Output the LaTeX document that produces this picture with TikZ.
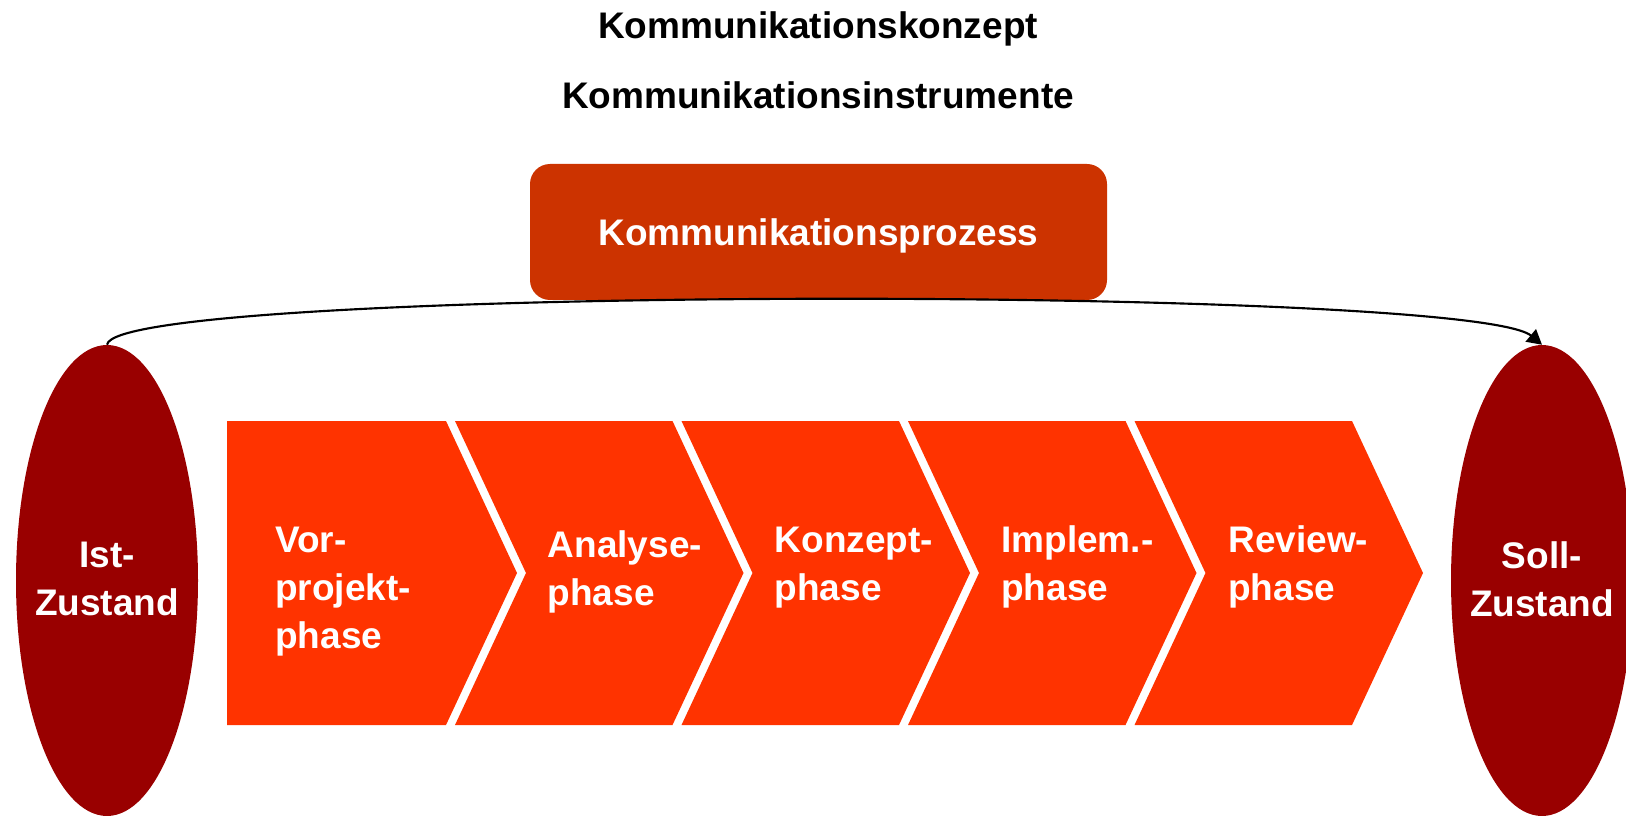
\documentclass[tikz,border=0pt]{standalone}
\usepackage{fontspec}
\setmainfont{Liberation Sans}
\usetikzlibrary{shapes.geometric,arrows.meta}
\definecolor{statered}{HTML}{990000}
\definecolor{phaseorange}{HTML}{FF3300}
\definecolor{procred}{HTML}{CC3300}
\begin{document}
\begin{tikzpicture}[x=0.75pt,y=-0.75pt,
  lbl/.style={font=\bfseries\fontsize{27.75}{36}\selectfont, inner sep=0pt},
  title/.style={lbl, text=black, anchor=base},
  state/.style={ellipse, fill=statered, draw=none, minimum width=136.5pt, minimum height=353.25pt, inner sep=0pt},
  statetext/.style={lbl, text=white, align=center},
  phase/.style={fill=phaseorange, draw=none},
  phasetext/.style={lbl, text=white, align=left, text width=150pt, anchor=base west},
  procbox/.style={lbl, fill=procred, text=white, rounded corners=15pt, minimum width=432.75pt, minimum height=102pt, text height=19.9pt, text depth=0pt},
  flow/.style={line width=1.6pt, -{Triangle[length=11pt,width=12pt]}}
]
\useasboundingbox (0,0) rectangle (1626,816);

% headings
\node[title] (konzept) at (818,39) {Kommunikationskonzept};
\node[title] (instr) at (818,109) {Kommunikationsinstrumente};

% process box
\node[procbox] (proc) at (818.5,232) {Kommunikationsprozess};

% start and target states
\node[state] (ist) at (107,580.5) {};
\node[statetext] (isttext) at (107,579) {Ist-\\Zustand};
\node[state] (soll) at (1542,580.5) {};
\node[statetext] (solltext) at (1542,579) {Soll-\\Zustand};

% phase chevrons
\fill[phase] (227,421) -- (446,421) -- (517,573) -- (446,725) -- (227,725) -- cycle;
\fill[phase] (455,421) -- (672.5,421) -- (743.5,573) -- (672.5,725) -- (455,725) -- (526,573) -- cycle;
\fill[phase] (681.5,421) -- (899,421) -- (970,573) -- (899,725) -- (681.5,725) -- (752.5,573) -- cycle;
\fill[phase] (908,421) -- (1125.5,421) -- (1196.5,573) -- (1125.5,725) -- (908,725) -- (979,573) -- cycle;
\fill[phase] (1134.5,421) -- (1352,421) -- (1423,573) -- (1352,725) -- (1134.5,725) -- (1205.5,573) -- cycle;

\node[phasetext] (p1) at (275,552) {Vor-\\projekt-\\phase};
\node[phasetext] (p2) at (547.5,557) {Analyse-\\phase};
\node[phasetext] (p3) at (774.5,552) {Konzept-\\phase};
\node[phasetext] (p4) at (1001,552) {Implem.-\\phase};
\node[phasetext] (p5) at (1228,552) {Review-\\phase};

% connector from start to target state
\draw[flow] (ist.north) .. controls (115,285) and (1470,285) .. (soll.north);
\end{tikzpicture}
\end{document}
